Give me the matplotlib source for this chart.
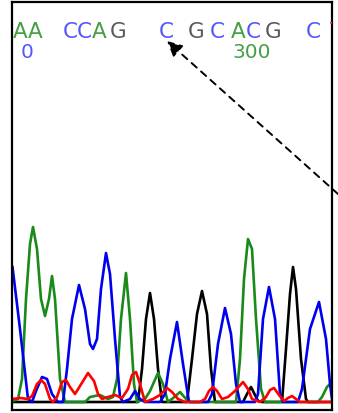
import numpy as np
import matplotlib
matplotlib.use("Agg")
import matplotlib.pyplot as plt

# trace vertices: scan position, signal height above baseline
blue_x = [12.5, 20, 28, 32, 36, 42, 47, 52, 58, 63, 67, 72, 79, 85, 90, 93, 97, 101, 106, 110,
          115, 120, 123, 130, 135, 140, 145, 160, 165, 170, 177, 183, 189, 208, 212, 218, 225,
          231, 236, 240, 255, 258, 263, 269, 275, 280, 283, 298, 302, 310, 319, 326, 330, 332]
blue_y = [135, 73, 3, 0, 11, 25, 23, 8, 0, 0, 33, 83, 117, 93, 58, 53, 63, 113, 149, 128,
          63, 5, 0, 3, 11, 3, 0, 0, 8, 43, 80, 38, 0, 0, 8, 58, 94,
          68, 18, 0, 0, 8, 83, 115, 83, 8, 0, 0, 13, 73, 100, 63, 18, 3]

green_x = [12.5, 18, 22, 26, 30, 33, 37, 41, 45, 49, 52, 55, 60, 65, 85, 90, 95, 100, 108, 113,
           117, 121, 126, 130, 134, 137, 145, 150, 158, 163, 168, 172, 180, 186, 190, 236, 240,
           244, 248, 252, 256, 261, 265, 318, 322, 327, 332]
green_y = [1, 3, 23, 103, 158, 175, 153, 103, 86, 103, 126, 103, 23, 0, 0, 5, 6, 7, 3, 5,
           23, 83, 129, 83, 18, 0, 3, 11, 29, 18, 0, 3, 10, 3, 0, 0, 43,
           123, 163, 153, 83, 13, 0, 0, 5, 15, 20]

black_x = [12.5, 138, 142, 146, 150, 154, 158, 162, 187, 192, 197, 202, 207, 211, 215, 243, 247,
           251, 255, 258, 262, 282, 286, 290, 293, 296, 301, 306, 308, 332]
black_y = [0, 0, 33, 83, 109, 83, 33, 0, 0, 43, 88, 111, 88, 33, 0, 0, 8,
           15, 7, 1, 0, 0, 53, 108, 135, 113, 43, 3, 0, 0]

red_x = [12.5, 20, 28, 32, 37, 41, 45, 50, 53, 57, 62, 66, 70, 75, 80, 88, 94, 98, 102, 108,
         115, 122, 128, 132, 136, 140, 145, 153, 160, 167, 172, 178, 185, 200, 205, 209, 213,
         217, 222, 228, 235, 243, 248, 252, 260, 266, 270, 274, 279, 284, 288, 292, 296, 300, 332]
red_y = [3, 4, 3, 6, 18, 22, 18, 3, 0, 5, 20, 22, 15, 8, 16, 29, 21, 8, 3, 5,
         7, 4, 13, 27, 30, 18, 0, 3, 7, 14, 10, 3, 0, 0, 3, 11, 15,
         11, 3, 5, 11, 20, 13, 3, 0, 5, 12, 14, 7, 1, 4, 6, 3, 0, 0]

# called bases and their positions
bases = ["A", "A", "C", "C", "A", "G", "C", "G", "C", "A", "C", "G", "C", "T"]
base_x = [20, 35, 70, 84, 99, 118, 166, 196, 217, 238, 253, 273, 313, 337]
base_col = {"A": "#45a045", "C": "#5555ff", "G": "#5a5a5a", "T": "#ff3030"}

ruler_labels = ["0", "300"]
ruler_x = [27, 252]
ruler_col = ["#5555ff", "#45a045"]

fig = plt.figure(figsize=(3.38, 4.14), dpi=100)
ax = fig.add_axes([12/338, 3/414, 320/338, 408/414])
ax.set_xlim(12, 332)
ax.set_ylim(-8, 400)
ax.set_xticks([])
ax.set_yticks([])
for s in ax.spines.values():
    s.set_linewidth(1.6)
    s.set_color("black")

lw = 1.9
ax.plot(black_x, black_y, color="black", lw=lw, solid_joinstyle="round")
ax.plot(green_x, green_y, color="#1a8a1a", lw=lw, solid_joinstyle="round")
ax.plot(blue_x, blue_y, color="#0000ee", lw=lw, solid_joinstyle="round")
ax.plot(red_x, red_y, color="#ff0000", lw=lw, solid_joinstyle="round")

for b, x in zip(bases, base_x):
    ax.text(x, 365, b, color=base_col[b], fontsize=15.5, ha="center", va="baseline",
            family="DejaVu Sans", clip_on=True)

for t, x, c in zip(ruler_labels, ruler_x, ruler_col):
    ax.text(x, 345, t, color=c, fontsize=14.5, ha="center", va="baseline")

# dashed arrow pointing at the called base
ax.annotate("", xy=(167, 361), xytext=(338, 208), xycoords="data", textcoords="data",
            annotation_clip=False,
            arrowprops=dict(arrowstyle="-|>,head_length=0.9,head_width=0.45", color="black",
                            lw=1.4, linestyle=(0, (3.5, 3)), shrinkA=0, shrinkB=0))

fig.savefig("out.png", dpi=100)
